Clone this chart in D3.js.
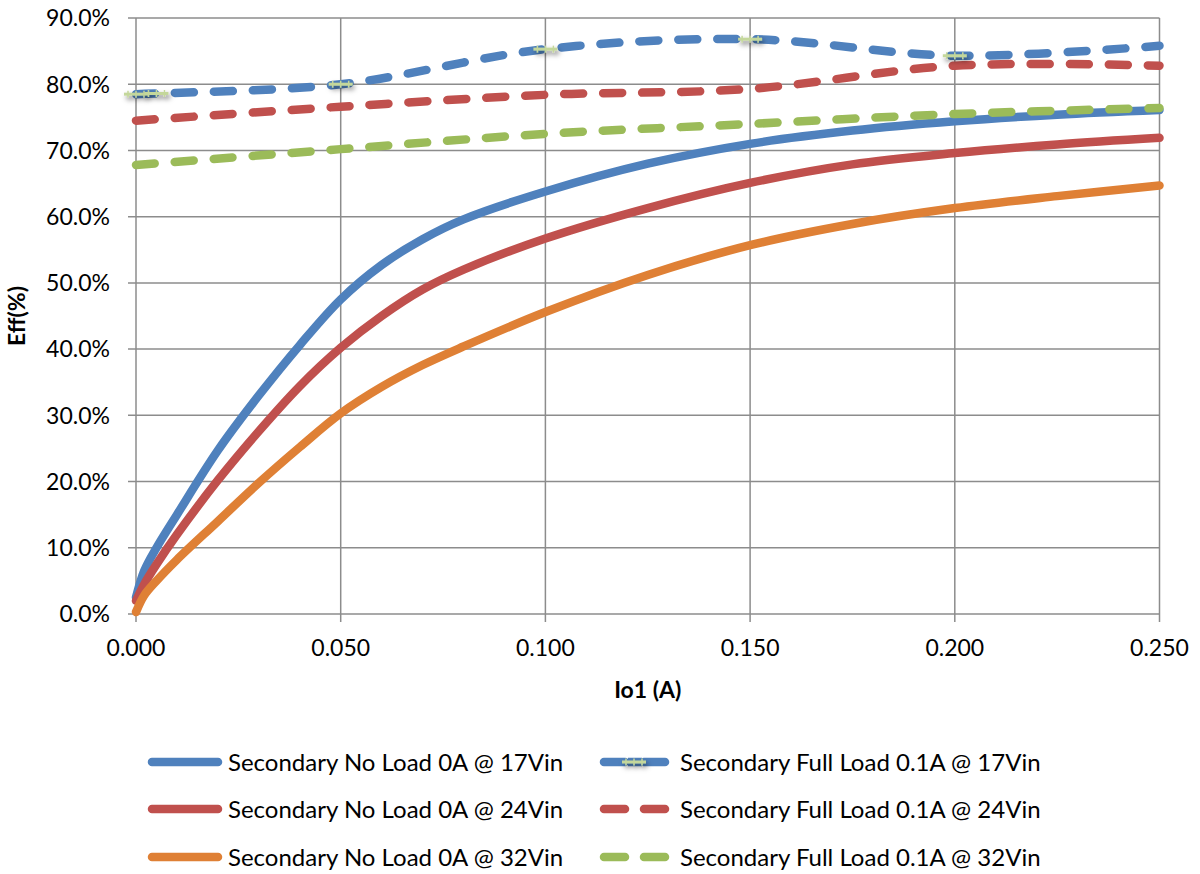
<!DOCTYPE html>
<html>
<head>
<meta charset="utf-8">
<script src="https://cdn.jsdelivr.net/npm/d3@7"></script>
<style>
  body { margin: 0; background: #fff; }
  text { font-family: Lato, "Open Sans", sans-serif; fill: #000; }
</style>
</head>
<body>
<div id="chart"></div>
<script>
const width = 1200;
const height = 874;

// x values (A) and efficiency (%)
const xNoLoad = [0, 0.002, 0.005, 0.010, 0.020, 0.030, 0.040, 0.050, 0.060, 0.070, 0.080, 0.100, 0.125, 0.150, 0.175, 0.200, 0.225, 0.250];
const noLoad17 = [2.5, 6.5, 10.0, 15.0, 24.7, 33.0, 40.6, 47.5, 52.7, 56.6, 59.6, 63.8, 68.0, 71.0, 73.0, 74.4, 75.4, 76.1];
const noLoad24 = [2.0, 4.5, 7.5, 12.0, 20.2, 27.6, 34.4, 40.2, 45.0, 49.0, 52.0, 56.7, 61.3, 65.1, 67.9, 69.6, 70.9, 71.9];
const noLoad32 = [0.3, 2.8, 5.0, 8.2, 14.0, 19.8, 25.2, 30.3, 34.3, 37.6, 40.4, 45.6, 51.2, 55.7, 58.9, 61.3, 63.1, 64.7];

const xFull17 = [0, 0.005, 0.050, 0.100, 0.150, 0.200, 0.250];
const full17 = [78.5, 78.6, 80.0, 85.3, 86.8, 84.3, 85.8];
const xFull = [0, 0.050, 0.100, 0.150, 0.200, 0.250];
const full24 = [74.5, 76.6, 78.4, 79.3, 82.8, 82.8];
const full32 = [67.8, 70.2, 72.5, 74.0, 75.5, 76.4];

const xTicks = [0, 0.05, 0.1, 0.15, 0.2, 0.25];
const yTicks = [0, 10, 20, 30, 40, 50, 60, 70, 80, 90];

const series = [
  { name: 'Secondary No Load 0A @ 17Vin', xs: xNoLoad, ys: noLoad17, color: '#4f81bd', dashed: false },
  { name: 'Secondary No Load 0A @ 24Vin', xs: xNoLoad, ys: noLoad24, color: '#c0504d', dashed: false },
  { name: 'Secondary No Load 0A @ 32Vin', xs: xNoLoad, ys: noLoad32, color: '#df8035', dashed: false },
  { name: 'Secondary Full Load 0.1A @ 17Vin', xs: xFull17, ys: full17, color: '#4f81bd', dashed: true, marker: true },
  { name: 'Secondary Full Load 0.1A @ 24Vin', xs: xFull, ys: full24, color: '#c0504d', dashed: true },
  { name: 'Secondary Full Load 0.1A @ 32Vin', xs: xFull, ys: full32, color: '#9bbb59', dashed: true }
];

const gridColor = '#8c8c8c';
const lineWidth = 8.5;
const dashArray = '19,20';
const fontSize = '23px';
const legendFont = '24px';

const svg = d3.select('#chart')
    .append('svg')
    .attr('width', width)
    .attr('height', height);

svg.append('rect')
    .attr('width', width)
    .attr('height', height)
    .attr('fill', '#fff');

const defs = svg.append('defs');
const shadow = defs.append('filter')
    .attr('id', 'shadow')
    .attr('x', '-50%').attr('y', '-150%')
    .attr('width', '200%').attr('height', '500%');
shadow.append('feDropShadow')
    .attr('dx', 2).attr('dy', 3)
    .attr('stdDeviation', 2.5)
    .attr('flood-color', '#000')
    .attr('flood-opacity', 0.5);

const x = d3.scaleLinear()
    .domain([0, 0.25])
    .range([136, 1159.5]);

const y = d3.scaleLinear()
    .domain([0, 90])
    .range([614, 18]);

// grid
const grid = svg.append('g');
grid.selectAll('.hgrid')
    .data(yTicks)
    .enter().append('line')
    .attr('x1', x(0) - 8)
    .attr('x2', x(0.25))
    .attr('y1', d => y(d))
    .attr('y2', d => y(d))
    .attr('stroke', gridColor)
    .attr('stroke-width', 1.5);

grid.selectAll('.vgrid')
    .data(xTicks)
    .enter().append('line')
    .attr('x1', d => x(d))
    .attr('x2', d => x(d))
    .attr('y1', y(90))
    .attr('y2', y(0) + 8)
    .attr('stroke', gridColor)
    .attr('stroke-width', 1.5);

// tick labels
svg.append('g').selectAll('text')
    .data(yTicks)
    .enter().append('text')
    .attr('x', 110)
    .attr('y', d => y(d))
    .attr('dy', '0.36em')
    .attr('text-anchor', 'end')
    .style('font-size', fontSize)
    .text(d => d3.format('.1f')(d) + '%');

svg.append('g').selectAll('text')
    .data(xTicks)
    .enter().append('text')
    .attr('x', d => x(d))
    .attr('y', 656)
    .attr('text-anchor', 'middle')
    .style('font-size', fontSize)
    .text(d => d3.format('.3f')(d));

// axis titles
svg.append('text')
    .attr('transform', 'translate(25,' + ((y(0) + y(90)) / 2) + ') rotate(-90)')
    .attr('text-anchor', 'middle')
    .style('font-size', fontSize)
    .style('font-weight', 'bold')
    .text('Eff(%)');

svg.append('text')
    .attr('x', (x(0) + x(0.25)) / 2)
    .attr('y', 698)
    .attr('text-anchor', 'middle')
    .style('font-size', fontSize)
    .style('font-weight', 'bold')
    .text('Io1 (A)');

// lines
const line = d3.line()
    .x(d => x(d[0]))
    .y(d => y(d[1]))
    .curve(d3.curveCatmullRom.alpha(0.5));

const lines = svg.append('g');
series.forEach(s => {
  const pts = s.xs.map((v, i) => [v, s.ys[i]]);
  lines.append('path')
      .datum(pts)
      .attr('d', line)
      .attr('fill', 'none')
      .attr('stroke', s.color)
      .attr('stroke-width', lineWidth)
      .attr('stroke-linecap', 'round')
      .attr('stroke-linejoin', 'round')
      .attr('stroke-dasharray', s.dashed ? dashArray : null);
});

function drawMarker(g, cx, cy) {
  const m = g.append('g')
      .attr('transform', 'translate(' + cx + ',' + cy + ')')
      .attr('filter', 'url(#shadow)');
  m.append('line')
      .attr('x1', -12).attr('x2', 12)
      .attr('y1', 0).attr('y2', 0)
      .attr('stroke', '#c4d79b')
      .attr('stroke-width', 3);
  [-8, 0, 8].forEach(t => {
    m.append('line')
        .attr('x1', t).attr('x2', t)
        .attr('y1', -3.5).attr('y2', 3.5)
        .attr('stroke', '#c4d79b')
        .attr('stroke-width', 1.5);
  });
}

// markers on the 17Vin full load line
const markerGroup = svg.append('g');
series.filter(s => s.marker).forEach(s => {
  s.xs.forEach((v, i) => {
    if (v < 0.25) drawMarker(markerGroup, x(v), y(s.ys[i]));
  });
});

// legend
const legendRows = [762, 809, 857];
const legend = svg.append('g');
series.forEach((s, i) => {
  const row = legendRows[i % 3];
  if (i < 3) {
    legend.append('line')
        .attr('x1', 152).attr('x2', 218)
        .attr('y1', row).attr('y2', row)
        .attr('stroke', s.color)
        .attr('stroke-width', lineWidth)
        .attr('stroke-linecap', 'round');
    legend.append('text')
        .attr('x', 228).attr('y', row)
        .attr('dy', '0.36em')
        .style('font-size', legendFont)
        .text(s.name);
  } else {
    [[604, 625], [644, 665]].forEach(seg => {
      legend.append('line')
          .attr('x1', seg[0]).attr('x2', seg[1])
          .attr('y1', row).attr('y2', row)
          .attr('stroke', s.color)
          .attr('stroke-width', lineWidth)
          .attr('stroke-linecap', 'round');
    });
    if (s.marker) {
      legend.append('line')
          .attr('x1', 628).attr('x2', 642)
          .attr('y1', row).attr('y2', row)
          .attr('stroke', s.color)
          .attr('stroke-width', lineWidth);
      drawMarker(legend, 634, row);
    }
    legend.append('text')
        .attr('x', 680).attr('y', row)
        .attr('dy', '0.36em')
        .style('font-size', legendFont)
        .text(s.name);
  }
});
</script>
</body>
</html>
